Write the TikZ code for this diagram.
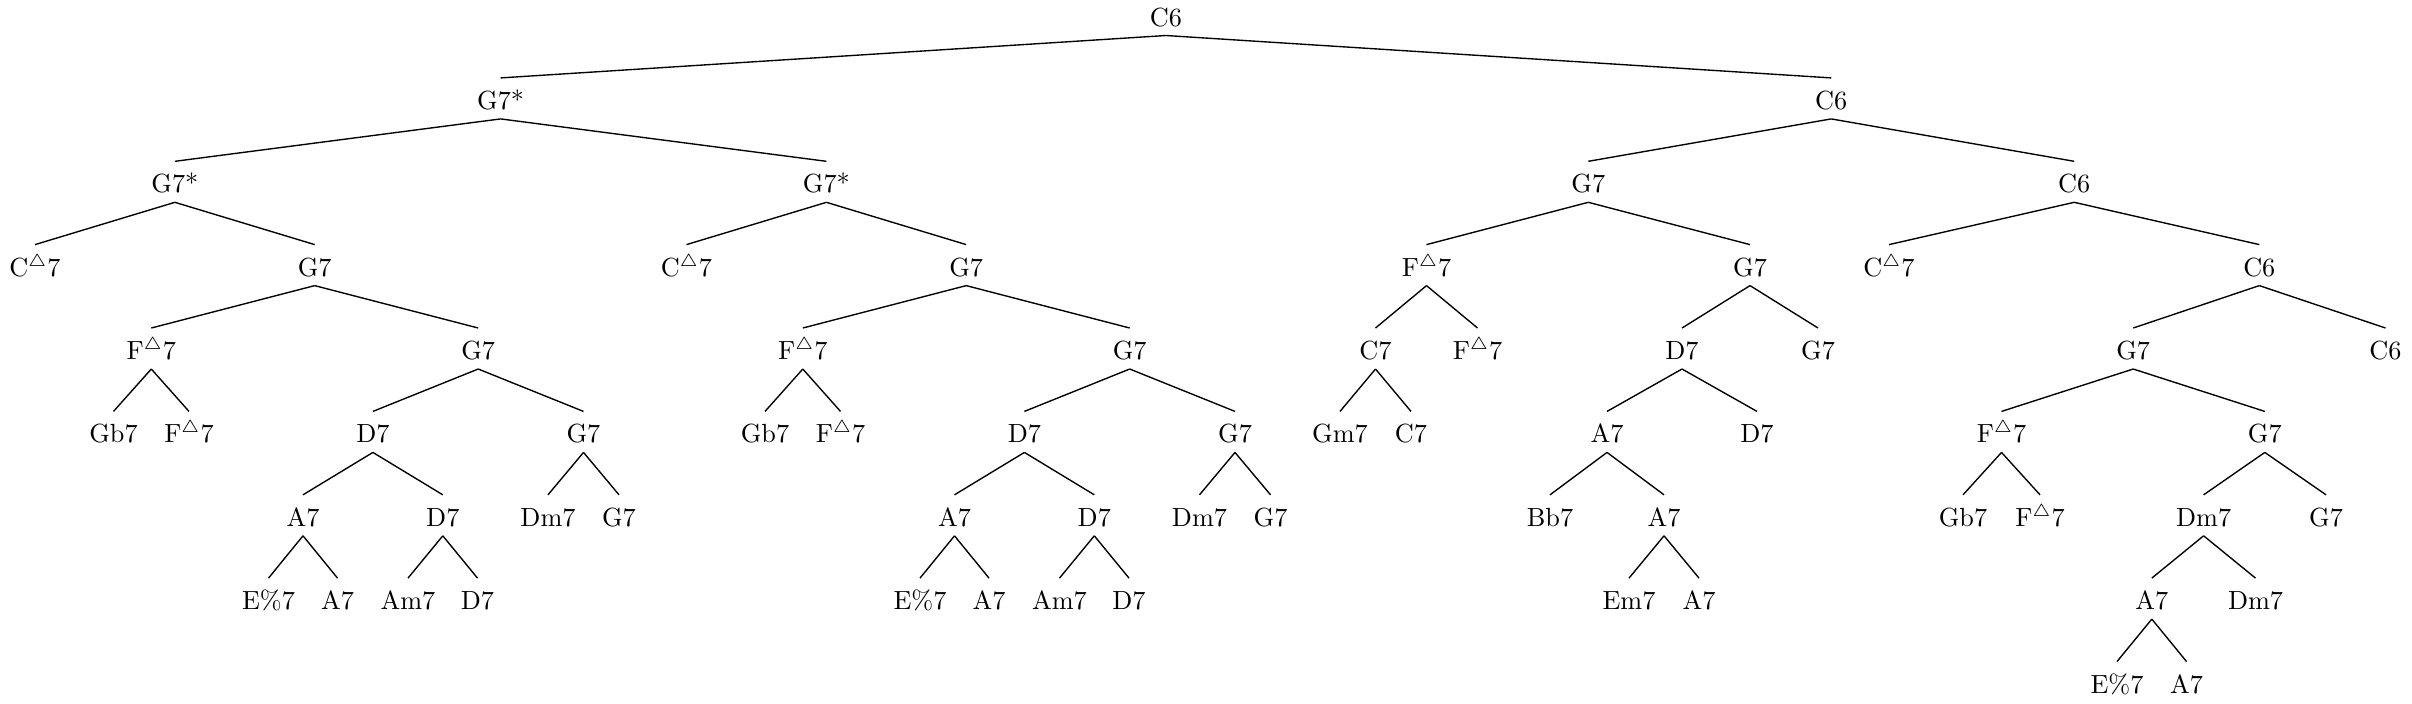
\documentclass[tikz,border=0pt]{standalone}
\usepackage{tikz}
\tikzset{
  chord/.style={anchor=base, inner xsep=2pt, inner ysep=3.6pt, text height=8.8pt, text depth=0pt,
                font=\fontsize{10.5}{12.6}\selectfont},
  branch/.style={line width=0.55pt, draw=black},
}
\newcommand{\majs}[1]{#1$^{\triangle}$7}

\begin{document}
\begin{tikzpicture}[x=0.4pt, y=-0.4pt]
  \useasboundingbox (0,0) rectangle (2412,703);
  % top
  \node[chord] (r) at (1165.9,26) {C6};
  \node[chord] (g) at (500.6,109.4) {G7*};
  \node[chord] (c) at (1831.2,109.4) {C6};
  % the two G7* subtrees are the same
  \foreach \p/\dx in {l/0, m/651.5}{
    \node[chord] (\p) at (\dx+174.9,192.8) {G7*};
    \node[chord] (\p1) at (\dx+35,276.1) {\majs{C}};
    \node[chord] (\p2) at (\dx+314.7,276.1) {G7};
    \node[chord] (\p21) at (\dx+151.3,359.5) {\majs{F}};
    \node[chord] (\p211) at (\dx+113.5,442.9) {Gb7};
    \node[chord] (\p212) at (\dx+189,442.9) {\majs{F}};
    \node[chord] (\p22) at (\dx+478.2,359.5) {G7};
    \node[chord] (\p221) at (\dx+372.9,442.9) {D7};
    \node[chord] (\p2211) at (\dx+303,526.3) {A7};
    \node[chord] (\p22111) at (\dx+268.5,609.6) {E\%7};
    \node[chord] (\p22112) at (\dx+337.5,609.6) {A7};
    \node[chord] (\p2212) at (\dx+442.8,526.3) {D7};
    \node[chord] (\p22121) at (\dx+408,609.6) {Am7};
    \node[chord] (\p22122) at (\dx+477.5,609.6) {D7};
    \node[chord] (\p222) at (\dx+583.5,442.9) {G7};
    \node[chord] (\p2221) at (\dx+548,526.3) {Dm7};
    \node[chord] (\p2222) at (\dx+619,526.3) {G7};
    \foreach \a/\b in {\p/\p1, \p/\p2, \p2/\p21, \p2/\p22, \p21/\p211, \p21/\p212,
                       \p22/\p221, \p22/\p222, \p221/\p2211, \p221/\p2212,
                       \p2211/\p22111, \p2211/\p22112, \p2212/\p22121, \p2212/\p22122,
                       \p222/\p2221, \p222/\p2222}
      \draw[branch] (\a.south) -- (\b.north);
  }
  % C6 side
  \node[chord] (c1) at (1588.3,192.8) {G7};
  \node[chord] (c11) at (1426.5,276.1) {\majs{F}};
  \node[chord] (c111) at (1375.5,359.5) {C7};
  \node[chord] (c1111) at (1340,442.9) {Gm7};
  \node[chord] (c1112) at (1411,442.9) {C7};
  \node[chord] (c112) at (1477.5,359.5) {\majs{F}};
  \node[chord] (c12) at (1750,276.1) {G7};
  \node[chord] (c121) at (1682,359.5) {D7};
  \node[chord] (c1211) at (1607,442.9) {A7};
  \node[chord] (c12111) at (1550,526.3) {Bb7};
  \node[chord] (c12112) at (1664,526.3) {A7};
  \node[chord] (c121121) at (1629,609.6) {Em7};
  \node[chord] (c121122) at (1699,609.6) {A7};
  \node[chord] (c1212) at (1757,442.9) {D7};
  \node[chord] (c122) at (1818,359.5) {G7};
  \node[chord] (c2) at (2074.2,192.8) {C6};
  \node[chord] (c21) at (1889,276.1) {\majs{C}};
  \node[chord] (c22) at (2259.3,276.1) {C6};
  \node[chord] (c221) at (2133.2,359.5) {G7};
  \node[chord] (c2211) at (2001.5,442.9) {\majs{F}};
  \node[chord] (c22111) at (1963,526.3) {Gb7};
  \node[chord] (c22112) at (2040,526.3) {\majs{F}};
  \node[chord] (c2212) at (2264.8,442.9) {G7};
  \node[chord] (c22121) at (2203.6,526.3) {Dm7};
  \node[chord] (c221211) at (2151.8,609.6) {A7};
  \node[chord] (c2212111) at (2117,693) {E\%7};
  \node[chord] (c2212112) at (2186.5,693) {A7};
  \node[chord] (c221212) at (2255.5,609.6) {Dm7};
  \node[chord] (c22122) at (2326,526.3) {G7};
  \node[chord] (c222) at (2385.5,359.5) {C6};
  \foreach \a/\b in {r/g, r/c, g/l, g/m, c/c1, c/c2, c1/c11, c1/c12, c11/c111, c11/c112,
                     c111/c1111, c111/c1112, c12/c121, c12/c122, c121/c1211, c121/c1212,
                     c1211/c12111, c1211/c12112, c12112/c121121, c12112/c121122,
                     c2/c21, c2/c22, c22/c221, c22/c222, c221/c2211, c221/c2212,
                     c2211/c22111, c2211/c22112, c2212/c22121, c2212/c22122,
                     c22121/c221211, c22121/c221212, c221211/c2212111, c221211/c2212112}
    \draw[branch] (\a.south) -- (\b.north);
\end{tikzpicture}
\end{document}
